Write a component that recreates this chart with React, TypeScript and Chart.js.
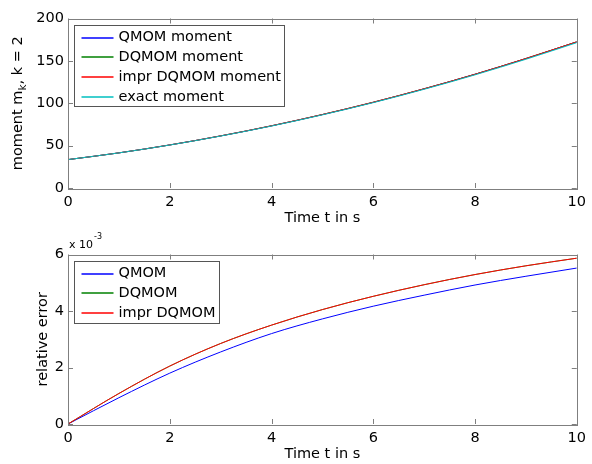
import React, { useEffect, useRef } from 'react';
import { Chart, registerables } from 'chart.js';

Chart.register(...registerables);

const FONT = '"DejaVu Sans", "Liberation Sans", sans-serif';
const FS = 14.5;

// ---- data ----
const timeS = [0, 1, 2, 3, 4, 5, 6, 7, 8, 9, 10];

const momentQMOM = [33.5, 41.44, 50.8, 61.45, 73.35, 86.6, 101.1, 117.0, 134.2, 152.7, 172.4];
const momentDQMOM = [33.5, 41.45, 50.8, 61.5, 73.4, 86.7, 101.2, 117.1, 134.2, 152.8, 172.5];
const momentImprDQMOM = [33.5, 41.45, 50.8, 61.5, 73.4, 86.7, 101.2, 117.1, 134.2, 152.8, 172.5];
const momentExact = [33.5, 41.4, 50.7, 61.3, 73.1, 86.3, 100.7, 116.5, 133.5, 151.9, 171.5];

const errQMOM = [0, 0.00093, 0.0018, 0.00255, 0.0032, 0.00372, 0.00417, 0.00456, 0.00492, 0.00523, 0.00552];
const errDQMOM = [0, 0.00108, 0.00205, 0.00285, 0.0035, 0.00405, 0.00452, 0.00493, 0.00529, 0.0056, 0.00587];
const errImprDQMOM = [0, 0.00108, 0.00205, 0.00285, 0.0035, 0.00405, 0.00452, 0.00493, 0.00529, 0.0056, 0.00587];

const xTickValues = [0, 2, 4, 6, 8, 10];
const momentTickValues = [0, 50, 100, 150, 200];
const errorTickValues = [0, 0.002, 0.004, 0.006];

const momentLegend = ['QMOM moment', 'DQMOM moment', 'impr DQMOM moment', 'exact moment'];
const errorLegend = ['QMOM', 'DQMOM', 'impr DQMOM'];
const seriesColors = ['#0000ff', '#008000', '#ff0000', '#00bfbf'];

const W = 592;
const H = 232;

type PanelProps = {
  series: number[][];
  labels: string[];
  yMin: number;
  yMax: number;
  yTicks: number[];
  yFmt: (v: number) => string;
  padTop: number;
  chartBottom: number;
  yTitle: 'moment' | 'error';
  exponent?: boolean;
};

function makeDecor(p: PanelProps) {
  return {
    id: 'matlabDecor',
    afterDatasetsDraw(chart: any) {
      const { ctx, chartArea: a } = chart;
      const xs = chart.scales.x;
      const ys = chart.scales.y;
      ctx.save();
      ctx.strokeStyle = '#7f7f7f';
      ctx.lineWidth = 1;
      // frame
      ctx.strokeRect(Math.round(a.left) + 0.5, Math.round(a.top) + 0.5, Math.round(a.right - a.left), Math.round(a.bottom - a.top));
      // inward ticks
      const tl = 5;
      ctx.beginPath();
      xTickValues.forEach((v) => {
        const px = Math.round(xs.getPixelForValue(v)) + 0.5;
        ctx.moveTo(px, a.bottom);
        ctx.lineTo(px, a.bottom - tl);
        ctx.moveTo(px, a.top);
        ctx.lineTo(px, a.top + tl);
      });
      p.yTicks.forEach((v) => {
        const py = Math.round(ys.getPixelForValue(v)) + 0.5;
        ctx.moveTo(a.left, py);
        ctx.lineTo(a.left + tl, py);
        ctx.moveTo(a.right, py);
        ctx.lineTo(a.right - tl, py);
      });
      ctx.stroke();

      // axis titles
      ctx.fillStyle = '#000';
      ctx.font = `${FS}px ${FONT}`;
      ctx.textAlign = 'center';
      ctx.textBaseline = 'middle';
      ctx.fillText('Time t in s', (a.left + a.right) / 2, a.bottom + 30);

      const cy = (a.top + a.bottom) / 2;
      if (p.yTitle === 'moment') {
        const s1 = 'moment m';
        const s2 = 'k';
        const s3 = ', k = 2';
        const subFont = `${FS * 0.72}px ${FONT}`;
        ctx.font = `${FS}px ${FONT}`;
        const w1 = ctx.measureText(s1).width;
        const w3 = ctx.measureText(s3).width;
        ctx.font = subFont;
        const w2 = ctx.measureText(s2).width;
        const total = w1 + w2 + w3;
        ctx.save();
        ctx.translate(18, cy);
        ctx.rotate(-Math.PI / 2);
        ctx.textAlign = 'left';
        ctx.textBaseline = 'middle';
        let x0 = -total / 2;
        ctx.font = `${FS}px ${FONT}`;
        ctx.fillText(s1, x0, 0);
        x0 += w1;
        ctx.font = subFont;
        ctx.fillText(s2, x0, 5);
        x0 += w2;
        ctx.font = `${FS}px ${FONT}`;
        ctx.fillText(s3, x0, 0);
        ctx.restore();
      } else {
        ctx.save();
        ctx.translate(43, cy);
        ctx.rotate(-Math.PI / 2);
        ctx.textAlign = 'center';
        ctx.textBaseline = 'middle';
        ctx.fillText('relative error', 0, 0);
        ctx.restore();
      }

      if (p.exponent) {
        ctx.textAlign = 'left';
        ctx.textBaseline = 'middle';
        ctx.font = `11px ${FONT}`;
        const t = 'x 10';
        ctx.fillText(t, a.left + 1, a.top - 9);
        const tw = ctx.measureText(t).width;
        ctx.font = `8px ${FONT}`;
        ctx.fillText('-3', a.left + 2 + tw, a.top - 18);
      }

      // legend
      ctx.font = `${FS}px ${FONT}`;
      let maxW = 0;
      p.labels.forEach((l) => {
        maxW = Math.max(maxW, ctx.measureText(l).width);
      });
      const bx = Math.round(a.left + 6) + 0.5;
      const by = Math.round(a.top + 6) + 0.5;
      const rowH = 19.8;
      const bw = Math.round(44 + maxW + 4);
      const bh = Math.round(12 + rowH * (p.labels.length - 1) + 10);
      ctx.fillStyle = '#fff';
      ctx.fillRect(bx, by, bw, bh);
      ctx.strokeStyle = '#555';
      ctx.lineWidth = 1;
      ctx.strokeRect(bx, by, bw, bh);
      p.labels.forEach((l, i) => {
        const ry = by + 12 + rowH * i;
        ctx.strokeStyle = seriesColors[i];
        ctx.lineWidth = 1.5;
        ctx.beginPath();
        ctx.moveTo(bx + 7, Math.round(ry));
        ctx.lineTo(bx + 39, Math.round(ry));
        ctx.stroke();
        ctx.fillStyle = '#000';
        ctx.textAlign = 'left';
        ctx.textBaseline = 'middle';
        ctx.fillText(l, bx + 44, ry);
      });
      ctx.restore();
    },
  };
}

function Panel(p: PanelProps) {
  const ref = useRef<HTMLCanvasElement | null>(null);
  useEffect(() => {
    if (!ref.current) return;
    const orders = [3, 2, 1, 0];
    const widths = [1.0, 0.8, 1.0, 1.0];
    const chart = new Chart(ref.current, {
      type: 'line',
      data: {
        datasets: p.series.map((s, i) => ({
          label: p.labels[i],
          data: timeS.map((t, j) => ({ x: t, y: s[j] })),
          borderColor: seriesColors[i],
          borderWidth: widths[i],
          pointRadius: 0,
          fill: false,
          cubicInterpolationMode: 'monotone' as const,
          order: orders[i],
        })),
      },
      options: {
        animation: false,
        responsive: false,
        maintainAspectRatio: false,
        events: [],
        layout: { padding: { left: 0, right: 9, top: p.padTop, bottom: 0 } },
        plugins: { legend: { display: false }, tooltip: { enabled: false }, title: { display: false } },
        scales: {
          x: {
            type: 'linear',
            min: 0,
            max: 10,
            afterBuildTicks: (s: any) => {
              s.ticks = xTickValues.map((v) => ({ value: v }));
            },
            afterFit: (s: any) => {
              s.height = H - p.chartBottom;
            },
            grid: { display: false, drawTicks: false },
            border: { display: false },
            ticks: {
              autoSkip: false,
              maxRotation: 0,
              padding: 6,
              color: '#000',
              font: { family: FONT, size: FS },
              callback: (v: any) => String(v),
            },
          },
          y: {
            type: 'linear',
            min: p.yMin,
            max: p.yMax,
            afterBuildTicks: (s: any) => {
              s.ticks = p.yTicks.map((v) => ({ value: v }));
            },
            afterFit: (s: any) => {
              s.width = 68;
            },
            grid: { display: false, drawTicks: false },
            border: { display: false },
            ticks: {
              autoSkip: false,
              padding: 4,
              color: '#000',
              font: { family: FONT, size: FS },
              callback: (v: any) => p.yFmt(Number(v)),
            },
          },
        },
      },
      plugins: [makeDecor(p)],
    });
    return () => chart.destroy();
  }, []);
  return <canvas ref={ref} width={W} height={H} style={{ display: 'block', width: W, height: H }} />;
}

export default function App() {
  return (
    <div style={{ position: 'absolute', left: 0, top: 0, width: W, height: 464, background: '#fff' }}>
      <Panel
        series={[momentQMOM, momentDQMOM, momentImprDQMOM, momentExact]}
        labels={momentLegend}
        yMin={0}
        yMax={200}
        yTicks={momentTickValues}
        yFmt={(v) => String(Math.round(v))}
        padTop={18.5}
        chartBottom={188}
        yTitle="moment"
      />
      <Panel
        series={[errQMOM, errDQMOM, errImprDQMOM]}
        labels={errorLegend}
        yMin={0}
        yMax={0.006}
        yTicks={errorTickValues}
        yFmt={(v) => String(Math.round(v * 1000))}
        padTop={22.5}
        chartBottom={192}
        yTitle="error"
        exponent
      />
    </div>
  );
}
